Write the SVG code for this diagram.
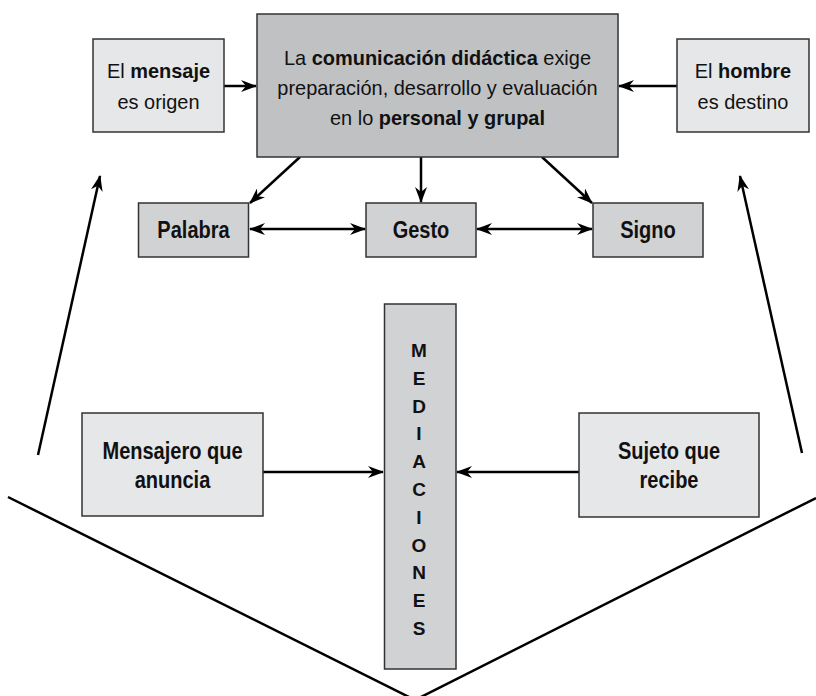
<svg xmlns="http://www.w3.org/2000/svg" width="816" height="696" viewBox="0 0 816 696">
<defs>
<style>
.t{font-family:"Liberation Sans",Arial,sans-serif;font-size:21px;fill:#111;text-anchor:middle}
.b{font-weight:bold}
.bc{font-family:"Liberation Sans",Arial,sans-serif;font-size:23px;font-weight:bold;fill:#111;text-anchor:middle}
.m{font-family:"Liberation Sans",Arial,sans-serif;font-size:19px;font-weight:bold;fill:#111;text-anchor:middle}
.box{stroke:#333;stroke-width:1.5}
.dark{fill:#c0c1c3}
.mid{fill:#d1d2d4}
.light{fill:#e6e7e8}
.c{stroke:#000;stroke-width:2.5;fill:none}
</style>
<marker id="ah" viewBox="0 0 16 12" refX="15" refY="6" markerWidth="16" markerHeight="12" markerUnits="userSpaceOnUse" orient="auto-start-reverse">
<path d="M0,0 L16,6 L0,12 L5,6 Z" fill="#000"/>
</marker>
</defs>
<rect width="816" height="696" fill="#fff"/>

<g id="connectors">
<line class="c" x1="224" y1="86" x2="256" y2="86" marker-end="url(#ah)"/>
<line class="c" x1="677" y1="86" x2="619" y2="86" marker-end="url(#ah)"/>
<line class="c" x1="300" y1="157" x2="250" y2="203" marker-end="url(#ah)"/>
<line class="c" x1="421" y1="157" x2="421" y2="202" marker-end="url(#ah)"/>
<line class="c" x1="542" y1="157" x2="592" y2="203" marker-end="url(#ah)"/>
<line class="c" x1="250" y1="229" x2="365" y2="229" marker-start="url(#ah)" marker-end="url(#ah)"/>
<line class="c" x1="477" y1="229" x2="592" y2="229" marker-start="url(#ah)" marker-end="url(#ah)"/>
<line class="c" x1="263" y1="472" x2="383" y2="472" marker-end="url(#ah)"/>
<line class="c" x1="579" y1="472" x2="457" y2="472" marker-end="url(#ah)"/>
<line class="c" x1="38" y1="455" x2="100" y2="176" marker-end="url(#ah)"/>
<line class="c" x1="802" y1="453" x2="740" y2="176" marker-end="url(#ah)"/>
<polyline class="c" points="8,497 415,700 816,498"/>
</g>

<g id="mensaje">
<rect class="box light" x="93" y="39" width="131" height="93"/>
<text class="t" transform="translate(158.5,78) scale(0.95,1)">El <tspan class="b">mensaje</tspan></text>
<text class="t" transform="translate(158.5,109) scale(0.95,1)">es origen</text>
</g>

<g id="comunicacion">
<rect class="box dark" x="257" y="14" width="361" height="143"/>
<text class="t" transform="translate(437.5,65) scale(0.95,1)">La <tspan class="b">comunicación didáctica</tspan> exige</text>
<text class="t" transform="translate(437.5,95) scale(0.95,1)">preparación, desarrollo y evaluación</text>
<text class="t" transform="translate(437.5,125) scale(0.95,1)">en lo <tspan class="b">personal y grupal</tspan></text>
</g>

<g id="hombre">
<rect class="box light" x="677" y="39" width="132" height="93"/>
<text class="t" transform="translate(743,78) scale(0.95,1)">El <tspan class="b">hombre</tspan></text>
<text class="t" transform="translate(743,109) scale(0.95,1)">es destino</text>
</g>

<g id="palabra">
<rect class="box mid" x="138.5" y="203" width="110" height="54"/>
<text class="bc" transform="translate(193.5,238) scale(0.87,1)">Palabra</text>
</g>

<g id="gesto">
<rect class="box mid" x="366" y="203" width="110" height="54"/>
<text class="bc" transform="translate(421,238) scale(0.87,1)">Gesto</text>
</g>

<g id="signo">
<rect class="box mid" x="593" y="203" width="110" height="54"/>
<text class="bc" transform="translate(648,238) scale(0.87,1)">Signo</text>
</g>

<g id="mensajero">
<rect class="box light" x="82" y="413" width="181" height="103"/>
<text class="bc" transform="translate(172.5,459) scale(0.87,1)">Mensajero que</text>
<text class="bc" transform="translate(172.5,488) scale(0.87,1)">anuncia</text>
</g>

<g id="sujeto">
<rect class="box light" x="579" y="413" width="180" height="104"/>
<text class="bc" transform="translate(669,459) scale(0.87,1)">Sujeto que</text>
<text class="bc" transform="translate(669,488) scale(0.87,1)">recibe</text>
</g>

<g id="mediaciones">
<rect class="box mid" x="384.5" y="304" width="71.5" height="365"/>
<text class="m" x="419" y="357">M</text>
<text class="m" x="419" y="385">E</text>
<text class="m" x="419" y="413">D</text>
<text class="m" x="419" y="440">I</text>
<text class="m" x="419" y="468">A</text>
<text class="m" x="419" y="496">C</text>
<text class="m" x="419" y="524">I</text>
<text class="m" x="419" y="552">O</text>
<text class="m" x="419" y="579">N</text>
<text class="m" x="419" y="607">E</text>
<text class="m" x="419" y="635">S</text>
</g>
</svg>
